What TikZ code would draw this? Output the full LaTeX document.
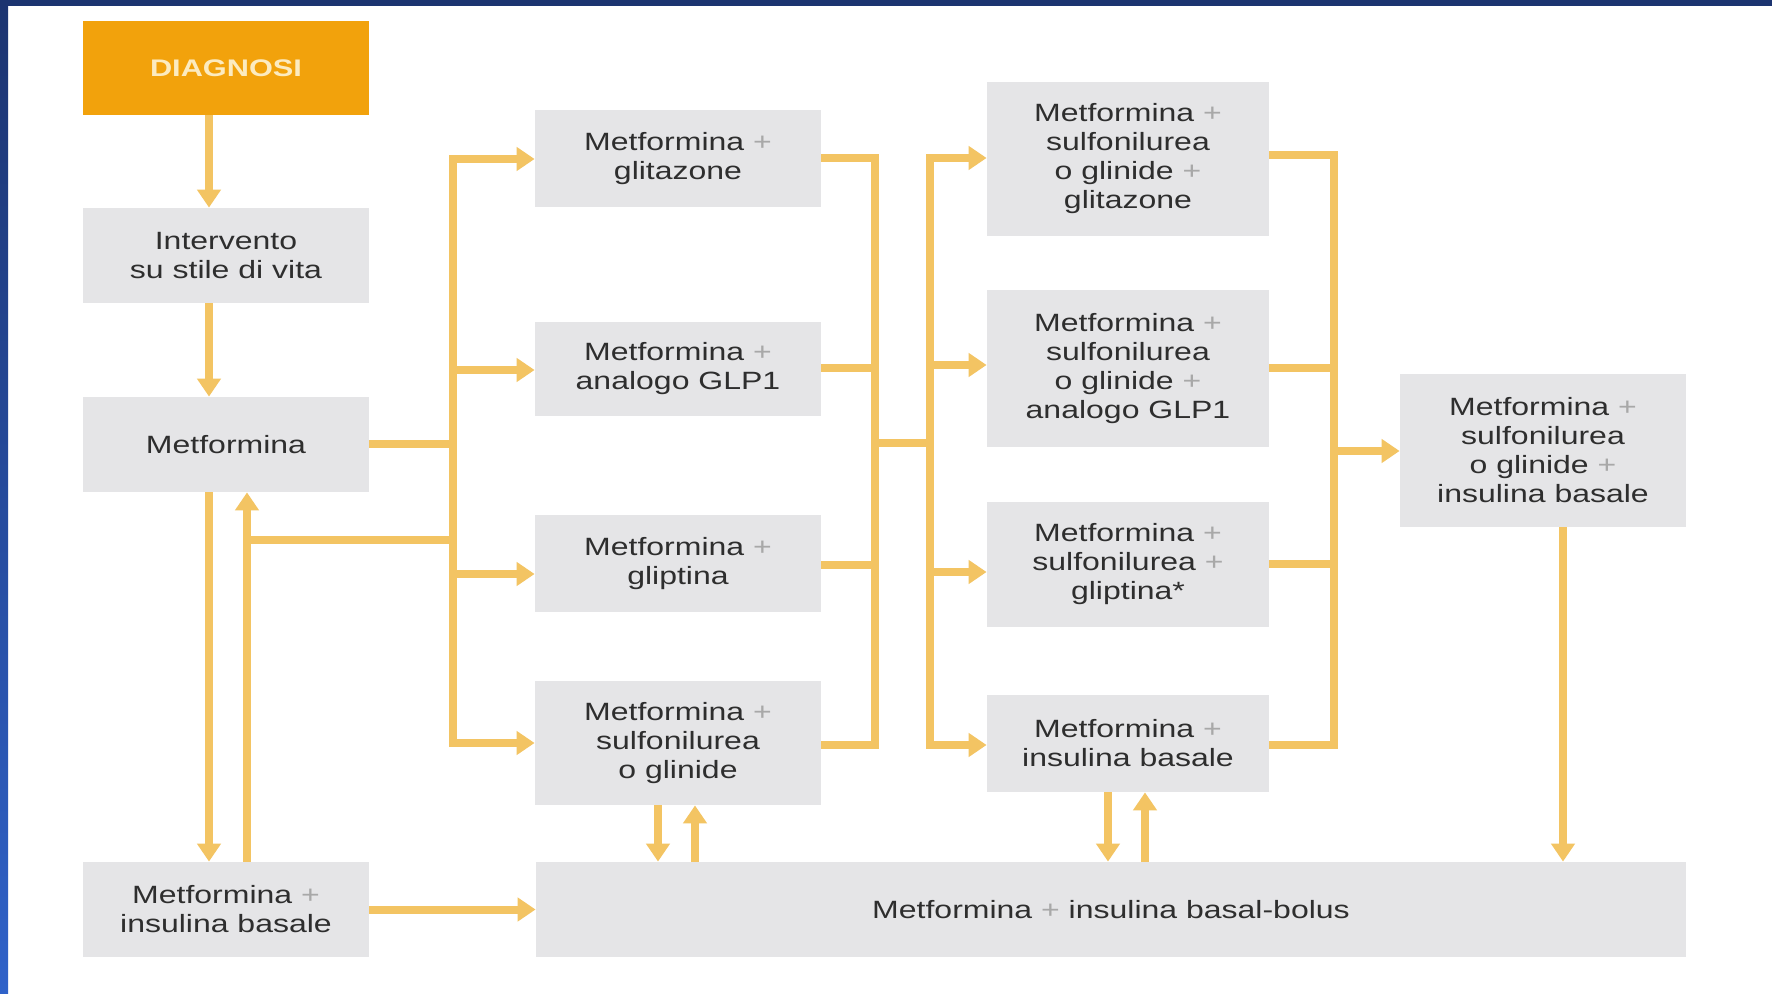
\documentclass[tikz,border=0pt]{standalone}
\usepackage{fontspec}
\setmainfont{Liberation Sans}[FakeStretch=1.28]
\usetikzlibrary{arrows.meta,calc}
\definecolor{lineC}{HTML}{F3C463}
\definecolor{boxC}{HTML}{E5E5E7}
\definecolor{textC}{HTML}{2E2E2E}
\definecolor{plusC}{HTML}{A8A8A8}
\definecolor{diagC}{HTML}{F2A20C}
\definecolor{diagT}{HTML}{FCEBC0}
\definecolor{navyC}{HTML}{1C3470}
\definecolor{blueC}{HTML}{2F62C9}
\newcommand\pl{{\color{plusC}+}}
\begin{document}
\begin{tikzpicture}[x=0.5pt,y=-0.5pt,
  box/.style={fill=boxC, text=textC, align=center, inner sep=0pt,
    font=\fontsize{12.5}{14.5}\selectfont},
  conn/.style={draw=lineC, line width=4pt},
  arr/.style={conn, -{Triangle[length=9pt,width=11.5pt]}}]
\useasboundingbox (0,0) rectangle (1772,994);
\fill[white] (0,0) rectangle (1772,994);
\shade[top color=navyC, bottom color=blueC] (0,0) rectangle (8,994);
\fill[navyC] (0,0) rectangle (1772,6);

% boxes
\node[box, fill=diagC, text=diagT, minimum width=143pt, minimum height=47pt,
  font=\fontsize{12}{14}\selectfont\bfseries] (diag) at (226,68) {DIAGNOSI};
\node[box, minimum width=143pt, minimum height=47.5pt] (interv) at (226,255.5) {Intervento\\su stile di vita};
\node[box, minimum width=143pt, minimum height=47.5pt] (metf) at (226,444.5) {Metformina};
\node[box, minimum width=143pt, minimum height=47.5pt] (mib) at (226,909.5) {Metformina \pl\\insulina basale};

\node[box, minimum width=143pt, minimum height=48.5pt] (c2a) at (678,158.5) {Metformina \pl\\glitazone};
\node[box, minimum width=143pt, minimum height=47pt] (c2b) at (678,369) {Metformina \pl\\analogo GLP1};
\node[box, minimum width=143pt, minimum height=48.5pt] (c2c) at (678,563.5) {Metformina \pl\\gliptina};
\node[box, minimum width=143pt, minimum height=62pt] (c2d) at (678,743) {Metformina \pl\\sulfonilurea\\o glinide};

\node[box, minimum width=141pt, minimum height=77pt] (c3a) at (1128,159) {Metformina \pl\\sulfonilurea\\o glinide \pl\\glitazone};
\node[box, minimum width=141pt, minimum height=78.5pt] (c3b) at (1128,368.5) {Metformina \pl\\sulfonilurea\\o glinide \pl\\analogo GLP1};
\node[box, minimum width=141pt, minimum height=62.5pt] (c3c) at (1128,564.5) {Metformina \pl\\sulfonilurea \pl\\gliptina*};
\node[box, minimum width=141pt, minimum height=48.5pt] (c3d) at (1128,743.5) {Metformina \pl\\insulina basale};

\node[box, minimum width=143pt, minimum height=76.5pt] (c4) at (1543,450.5) {Metformina \pl\\sulfonilurea\\o glinide \pl\\insulina basale};

\node[box, minimum width=575pt, minimum height=47.5pt] (bar) at (1111,909.5) {Metformina \pl{} insulina basal-bolus};

% lanes
\coordinate (xa) at (209,0);
\coordinate (xb) at (247,0);
\coordinate (xc) at (1563,0);
\coordinate (x2d) at (658,0);
\coordinate (x2u) at (695,0);
\coordinate (x3d) at (1108,0);
\coordinate (x3u) at (1145,0);

% left column
\draw[arr] (diag.south -| xa) -- (interv.north -| xa);
\draw[arr] (interv.south -| xa) -- (metf.north -| xa);
\draw[arr] (metf.south -| xa) -- (mib.north -| xa);
\draw[arr] (mib.north -| xb) -- (metf.south -| xb);
\draw[arr] (mib.east) -- (bar.west);

% bus 1
\coordinate (b1t) at (453,159);
\coordinate (b1c) at (453,370);
\coordinate (b1m) at (453,444.5);
\coordinate (b1e) at (453,540);
\coordinate (b1d) at (453,574);
\coordinate (b1b) at (453,743);
\draw[conn] (metf.east) -- (b1m);
\draw[arr] (b1b) -- (b1t) -- (b1t -| c2a.west);
\draw[arr] (b1t) -- (b1b) -- (b1b -| c2d.west);
\draw[arr] (b1c) -- (b1c -| c2b.west);
\draw[arr] (b1d) -- (b1d -| c2c.west);
\draw[conn] (b1e) -- (b1e -| xb);

% bus 2 and 3
\coordinate (b2t) at (875,158);
\coordinate (b2c) at (875,368);
\coordinate (b2l) at (875,443);
\coordinate (b2d) at (875,565);
\coordinate (b2b) at (875,745);
\draw[conn] (c2a.east |- b2t) -- (b2t) -- (b2b) -- (c2d.east |- b2b);
\draw[conn] (c2b.east |- b2c) -- (b2c);
\draw[conn] (c2c.east |- b2d) -- (b2d);
\coordinate (b3t) at (930,158);
\coordinate (b3c) at (930,365);
\coordinate (b3l) at (930,443);
\coordinate (b3d) at (930,572);
\coordinate (b3b) at (930,745);
\draw[conn] (b2l) -- (b3l);
\draw[arr] (b3b) -- (b3t) -- (b3t -| c3a.west);
\draw[arr] (b3t) -- (b3b) -- (b3b -| c3d.west);
\draw[arr] (b3c) -- (b3c -| c3b.west);
\draw[arr] (b3d) -- (b3d -| c3c.west);

% bus 4
\coordinate (b4t) at (1334,155);
\coordinate (b4c) at (1334,368);
\coordinate (b4m) at (1334,451);
\coordinate (b4d) at (1334,564);
\coordinate (b4b) at (1334,745);
\draw[conn] (c3a.east |- b4t) -- (b4t) -- (b4b) -- (c3d.east |- b4b);
\draw[conn] (c3b.east |- b4c) -- (b4c);
\draw[conn] (c3c.east |- b4d) -- (b4d);
\draw[arr] (b4m) -- (b4m -| c4.west);

% to basal-bolus
\draw[arr] (c4.south -| xc) -- (bar.north -| xc);
\draw[arr] (c2d.south -| x2d) -- (bar.north -| x2d);
\draw[arr] (bar.north -| x2u) -- (c2d.south -| x2u);
\draw[arr] (c3d.south -| x3d) -- (bar.north -| x3d);
\draw[arr] (bar.north -| x3u) -- (c3d.south -| x3u);
\end{tikzpicture}
\end{document}
